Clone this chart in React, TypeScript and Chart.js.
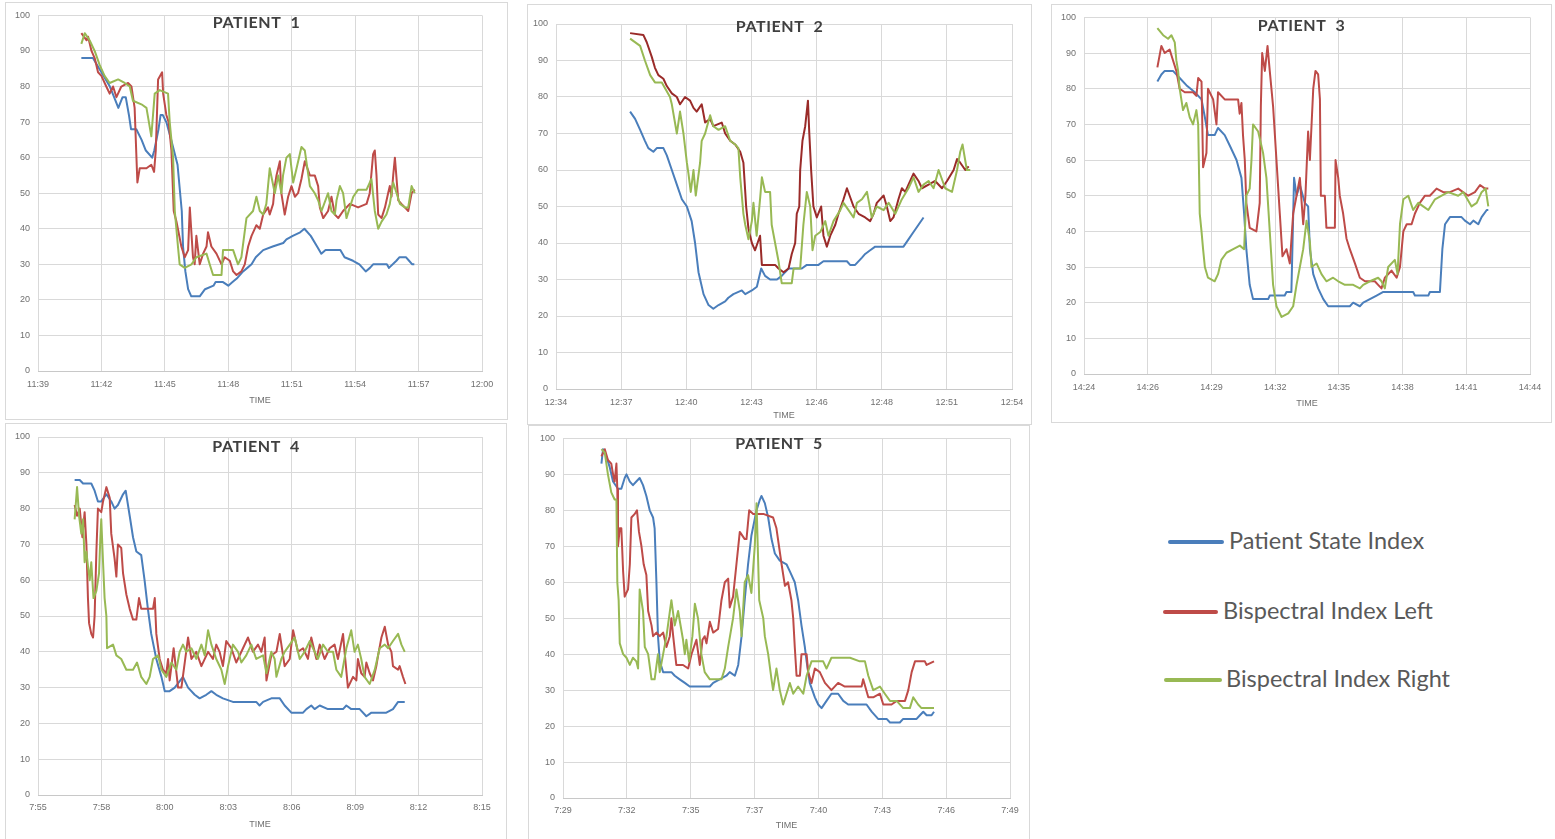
import React, { useEffect, useRef } from "react";
import { Chart, registerables } from "chart.js";

Chart.register(...registerables);

// ---------- DATA: [minutes since first axis tick, value] ----------
const seriesNames = ["Patient State Index", "Bispectral Index Left", "Bispectral Index Right"];

const p1Ticks = ["11:39", "11:42", "11:45", "11:48", "11:51", "11:54", "11:57", "12:00"];
const p1Span = 21;
const p1Psi = [[2.05,88],[2.6,88],[2.9,85],[3.4,80],[3.6,77],[3.8,74],[4.0,77],[4.15,77],[4.3,72],[4.4,68],[4.65,68],[4.9,65],[5.1,62],[5.4,60],[5.5,62],[5.7,68],[5.8,72],[5.9,72],[6.07,70],[6.3,65],[6.6,58],[6.8,45],[6.86,35],[6.97,28],[7.1,23],[7.25,21],[7.65,21],[7.9,23],[8.3,24],[8.4,25],[8.75,25],[9.0,24],[9.2,25],[9.4,26],[9.7,28],[9.9,29],[10.1,30],[10.3,32],[10.65,34],[11.1,35],[11.6,36],[11.75,37],[12.05,38],[12.4,39],[12.6,40],[12.9,38],[13.2,35],[13.4,33],[13.6,34],[14.3,34],[14.5,32],[14.9,31],[15.2,30],[15.5,28],[15.7,29],[15.85,30],[16.5,30],[16.6,29],[16.95,31],[17.1,32],[17.4,32],[17.55,31],[17.7,30],[17.8,30]];
const p1BisL = [[2.05,95],[2.3,93],[2.37,94],[2.53,90],[2.68,88],[2.84,84],[3.0,83],[3.23,80],[3.39,78],[3.55,80],[3.71,77],[3.94,80],[4.26,81],[4.42,80],[4.57,74],[4.7,53],[4.81,57],[5.13,57],[5.36,58],[5.49,56],[5.57,62],[5.68,82],[5.87,84],[5.92,78],[6.07,72],[6.18,70],[6.31,62],[6.42,45],[6.55,42],[6.78,35],[6.94,32],[7.1,34],[7.18,46],[7.33,32],[7.41,30],[7.49,38],[7.65,30],[7.81,33],[7.97,35],[8.04,39],[8.2,35],[8.44,33],[8.68,30],[8.83,32],[9.07,31],[9.23,28],[9.39,27],[9.62,28],[9.78,30],[9.94,35],[10.1,38],[10.33,41],[10.49,40],[10.65,44],[10.88,46],[10.96,44],[11.12,47],[11.2,52],[11.28,55],[11.44,59],[11.51,50],[11.67,44],[11.83,49],[11.99,52],[12.15,49],[12.3,50],[12.46,54],[12.62,59],[12.86,55],[13.09,55],[13.25,52],[13.33,46],[13.49,43],[13.72,45],[13.88,49],[14.04,44],[14.2,43],[14.43,45],[14.75,47],[15.14,46],[15.54,47],[15.69,50],[15.85,61],[15.93,62],[16.01,55],[16.09,44],[16.25,43],[16.41,46],[16.56,50],[16.64,52],[16.72,49],[16.8,55],[16.88,60],[17.04,48],[17.19,47],[17.35,46],[17.51,45],[17.67,50],[17.82,51]];
const p1BisR = [[2.05,92],[2.21,95],[2.44,93],[2.68,90],[2.92,86],[3.15,83],[3.39,81],[3.79,82],[4.1,81],[4.34,80],[4.49,76],[4.89,75],[5.13,74],[5.36,66],[5.52,78],[5.76,79],[6.15,78],[6.23,70],[6.39,60],[6.47,45],[6.62,35],[6.7,30],[6.94,29],[7.26,30],[7.49,32],[7.97,33],[8.12,30],[8.28,27],[8.68,27],[8.75,34],[9.23,34],[9.46,30],[9.62,32],[9.86,43],[10.17,45],[10.33,49],[10.49,45],[10.65,44],[10.8,47],[10.88,52],[10.96,57],[11.2,50],[11.36,55],[11.51,50],[11.59,55],[11.75,60],[11.91,61],[12.07,53],[12.23,57],[12.46,63],[12.62,62],[12.86,52],[13.09,50],[13.25,48],[13.41,45],[13.72,50],[13.88,45],[14.04,44],[14.12,48],[14.28,52],[14.43,50],[14.59,43],[14.75,46],[14.91,49],[15.14,51],[15.54,51],[15.77,54],[15.93,45],[16.09,40],[16.25,42],[16.48,44],[16.64,47],[16.8,53],[16.96,50],[17.12,47],[17.35,46],[17.51,46],[17.67,52],[17.82,50]];

const p2Ticks = ["12:34", "12:37", "12:40", "12:43", "12:46", "12:48", "12:51", "12:54"];
const p2Span = 20;
const p2Psi = [[3.25,76],[3.47,74],[3.69,71],[3.9,68],[4.05,66],[4.27,65],[4.42,66],[4.71,66],[4.86,64],[5.08,60],[5.3,56],[5.52,52],[5.74,50],[5.95,46],[6.1,40],[6.25,32],[6.47,26],[6.69,23],[6.9,22],[7.13,23],[7.42,24],[7.56,25],[7.78,26],[8.15,27],[8.3,26],[8.59,27],[8.81,28],[9.0,33],[9.17,31],[9.39,30],[9.69,30],[9.9,31],[10.2,33],[10.78,33],[11.0,34],[11.51,34],[11.73,35],[12.76,35],[12.9,34],[13.12,34],[13.42,36],[13.56,37],[13.78,38],[14.0,39],[15.24,39],[15.46,41],[15.68,43],[15.9,45],[16.12,47]];
const p2BisL = [[3.25,97.5],[3.83,97],[3.98,95],[4.2,91],[4.34,88],[4.49,86],[4.71,85],[4.86,83],[5.08,81],[5.3,80],[5.44,78],[5.66,80],[5.88,79],[6.03,77],[6.17,76],[6.39,78],[6.54,73],[6.76,74],[6.9,72],[7.27,73],[7.42,70],[7.64,68],[7.86,67],[8.08,65],[8.22,62],[8.34,50],[8.44,44],[8.59,40],[8.73,38],[8.95,42],[9.03,34],[9.61,34],[9.76,33],[9.98,32],[10.2,33],[10.34,37],[10.49,40],[10.56,48],[10.67,50],[10.71,60],[10.81,68],[10.93,72],[11.05,79],[11.11,70],[11.19,60],[11.29,50],[11.44,47],[11.63,50],[11.73,42],[11.88,39],[12.03,42],[12.25,45],[12.39,48],[12.61,52],[12.76,55],[13.05,50],[13.27,48],[13.56,47],[13.78,46],[13.93,48],[14.07,51],[14.37,53],[14.51,50],[14.66,46],[14.8,47],[15.02,52],[15.17,55],[15.32,54],[15.46,56],[15.68,59],[15.9,57],[16.05,55],[16.34,56],[16.63,57],[16.93,55],[17.15,57],[17.44,60],[17.59,63],[17.73,62],[17.95,60],[18.1,61]];
const p2BisR = [[3.25,96],[3.69,94],[3.9,90],[4.13,86],[4.34,84],[4.64,84],[5.0,80],[5.08,78],[5.3,70],[5.44,76],[5.59,70],[5.74,62],[5.81,59],[5.91,54],[6.03,60],[6.13,53],[6.32,62],[6.39,68],[6.54,70],[6.76,75],[6.9,72],[7.13,71],[7.42,72],[7.64,68],[7.86,67],[8.0,66],[8.08,58],[8.22,48],[8.3,45],[8.44,41],[8.59,46],[8.66,51],[8.8,42],[8.95,52],[9.03,58],[9.17,54],[9.39,54],[9.46,45],[9.61,40],[9.76,35],[9.9,29],[10.34,29],[10.42,33],[10.71,33],[10.85,45],[11.0,54],[11.15,50],[11.25,38],[11.37,42],[11.59,43],[11.81,46],[11.95,42],[12.17,46],[12.47,49],[12.61,51],[12.83,49],[13.05,47],[13.2,51],[13.42,52],[13.64,54],[13.85,47],[14.07,50],[14.37,49],[14.59,51],[14.88,48],[15.17,52],[15.46,55],[15.68,58],[15.9,54],[16.12,56],[16.34,57],[16.56,55],[16.78,60],[17.07,55],[17.37,54],[17.59,60],[17.73,65],[17.83,67],[18.02,60],[18.17,60]];

const p3Ticks = ["14:24", "14:26", "14:29", "14:32", "14:35", "14:38", "14:41", "14:44"];
const p3Span = 20;
const p3Psi = [[3.29,82],[3.47,84],[3.62,85],[3.99,85],[4.29,83],[4.59,81],[4.97,79],[5.27,77],[5.42,72],[5.56,67],[5.86,67],[6.01,69],[6.31,67],[6.54,64],[6.84,60],[7.06,55],[7.18,45],[7.28,35],[7.43,25],[7.58,21],[8.26,21],[8.33,22],[9.0,22],[9.08,23],[9.3,23],[9.42,55],[9.53,50],[9.68,53],[9.9,48],[10.05,47],[10.13,35],[10.28,28],[10.5,24],[10.73,21],[10.95,19],[11.92,19],[12.07,20],[12.37,19],[12.52,20],[12.82,21],[13.12,22],[13.42,23],[14.76,23],[14.84,22],[15.44,22],[15.51,23],[15.96,23],[16.07,35],[16.19,42],[16.41,44],[16.93,44],[17.08,43],[17.31,42],[17.46,43],[17.68,42],[17.83,44],[18.06,46],[18.13,46]];
const p3BisL = [[3.29,86],[3.47,92],[3.62,90],[3.84,91],[3.99,88],[4.14,85],[4.29,80],[4.52,79],[4.89,79],[5.04,78],[5.12,83],[5.27,82],[5.34,58],[5.49,62],[5.56,80],[5.79,77],[5.94,70],[6.01,79],[6.31,77],[6.91,77],[6.98,73],[7.06,76],[7.13,67],[7.21,60],[7.28,48],[7.43,41],[7.73,40],[7.88,48],[7.93,75],[7.99,90],[8.11,85],[8.23,92],[8.33,85],[8.48,75],[8.63,60],[8.71,52],[8.78,45],[8.9,33],[9.08,35],[9.23,31],[9.38,45],[9.53,50],[9.68,55],[9.83,42],[9.93,50],[10.05,68],[10.13,60],[10.28,80],[10.38,85],[10.5,84],[10.58,77],[10.62,50],[10.8,50],[10.87,41],[11.25,41],[11.28,60],[11.4,55],[11.47,50],[11.62,45],[11.77,38],[11.92,35],[12.15,31],[12.37,27],[12.6,26],[13.04,26],[13.19,25],[13.34,24],[13.49,27],[13.79,29],[14.02,27],[14.17,30],[14.32,40],[14.47,42],[14.69,42],[14.84,45],[15.06,48],[15.29,50],[15.51,50],[15.81,52],[16.11,51],[16.41,51],[16.78,52],[17.23,50],[17.53,51],[17.76,53],[17.98,52],[18.13,52]];
const p3BisR = [[3.29,97],[3.55,95],[3.77,94],[3.92,95],[4.07,93],[4.14,88],[4.22,85],[4.29,80],[4.44,74],[4.59,76],[4.74,72],[4.89,70],[5.04,74],[5.12,70],[5.19,45],[5.27,40],[5.34,35],[5.42,30],[5.56,27],[5.86,26],[6.01,28],[6.16,32],[6.39,34],[6.69,35],[6.99,36],[7.18,35],[7.28,50],[7.43,52],[7.51,60],[7.58,70],[7.81,68],[8.03,62],[8.18,55],[8.33,40],[8.48,25],[8.63,19],[8.86,16],[9.16,17],[9.38,19],[9.53,25],[9.68,30],[9.83,35],[9.98,43],[10.13,37],[10.2,30],[10.43,31],[10.65,28],[10.87,26],[11.17,27],[11.4,26],[11.7,25],[12.07,25],[12.37,24],[12.52,25],[12.82,26],[13.19,27],[13.34,26],[13.49,24],[13.64,30],[13.94,32],[14.06,28],[14.17,42],[14.32,49],[14.54,50],[14.76,46],[14.99,48],[15.21,47],[15.44,46],[15.74,49],[16.04,50],[16.33,51],[16.78,50],[17.01,51],[17.38,47],[17.61,48],[17.83,51],[18.01,52],[18.13,47]];

const p4Ticks = ["7:55", "7:58", "8:00", "8:03", "8:06", "8:09", "8:12", "8:15"];
const p4Span = 20;
const p4Psi = [[1.65,88],[1.88,88],[2.03,87],[2.4,87],[2.55,85],[2.7,82],[2.85,82],[3.08,84],[3.3,82],[3.45,80],[3.6,81],[3.83,84],[3.95,85],[4.13,78],[4.28,72],[4.43,68],[4.65,67],[4.8,60],[4.95,52],[5.1,45],[5.33,38],[5.56,33],[5.71,29],[5.93,29],[6.16,30],[6.53,33],[6.76,30],[7.06,28],[7.28,27],[7.58,28],[7.81,29],[8.03,28],[8.33,27],[8.78,26],[9.83,26],[9.98,25],[10.14,26],[10.51,27],[10.89,27],[11.11,25],[11.41,23],[11.94,23],[12.09,24],[12.31,25],[12.46,24],[12.69,25],[13.06,24],[13.74,24],[13.89,25],[14.11,24],[14.49,24],[14.79,22],[15.02,23],[15.69,23],[15.99,24],[16.22,26],[16.52,26]];
const p4BisL = [[1.65,81],[1.76,78],[1.88,80],[2.0,72],[2.1,79],[2.18,70],[2.25,55],[2.3,48],[2.4,45],[2.48,44],[2.55,50],[2.63,68],[2.7,80],[2.85,79],[2.93,82],[3.08,86],[3.23,83],[3.3,73],[3.45,66],[3.53,61],[3.6,70],[3.75,69],[3.83,62],[3.98,56],[4.13,52],[4.28,49],[4.43,49],[4.55,55],[4.65,52],[5.18,52],[5.26,55],[5.33,45],[5.48,38],[5.63,35],[5.78,34],[5.86,38],[5.93,32],[6.01,36],[6.11,41],[6.31,30],[6.46,30],[6.61,37],[6.76,44],[6.91,38],[7.13,40],[7.36,36],[7.66,40],[7.88,38],[8.03,42],[8.18,40],[8.33,36],[8.48,43],[8.71,41],[8.93,37],[9.16,40],[9.46,44],[9.68,40],[9.91,42],[10.06,40],[10.21,44],[10.29,32],[10.51,39],[10.74,40],[10.89,45],[11.11,36],[11.34,38],[11.49,46],[11.71,40],[11.94,41],[12.16,38],[12.31,44],[12.54,38],[12.69,42],[12.91,38],[13.14,41],[13.36,42],[13.51,38],[13.74,45],[13.81,40],[13.96,30],[14.19,33],[14.34,32],[14.41,38],[14.56,34],[14.71,33],[14.79,37],[14.94,34],[15.09,32],[15.24,36],[15.32,39],[15.47,44],[15.62,47],[15.77,42],[15.92,40],[15.99,36],[16.22,35],[16.29,36],[16.44,33],[16.55,31]];
const p4BisR = [[1.65,77],[1.76,86],[1.85,78],[1.95,73],[2.03,77],[2.1,65],[2.18,68],[2.25,64],[2.33,60],[2.4,65],[2.5,55],[2.63,57],[2.75,62],[2.81,72],[2.85,77],[2.93,65],[3.0,55],[3.08,50],[3.11,41],[3.38,42],[3.53,39],[3.75,38],[3.98,35],[4.28,35],[4.46,37],[4.65,33],[4.88,31],[5.03,33],[5.18,38],[5.41,39],[5.56,35],[5.78,33],[6.01,37],[6.23,35],[6.38,40],[6.53,42],[6.68,40],[6.91,41],[7.13,38],[7.36,42],[7.51,39],[7.66,46],[7.81,42],[8.03,38],[8.26,35],[8.41,31],[8.56,36],[8.78,42],[9.01,40],[9.16,37],[9.38,39],[9.61,42],[9.83,38],[10.14,39],[10.29,34],[10.51,40],[10.66,38],[10.74,33],[10.96,38],[11.11,40],[11.34,42],[11.56,44],[11.79,38],[12.01,40],[12.24,43],[12.46,40],[12.61,38],[12.84,42],[13.06,40],[13.29,40],[13.44,35],[13.66,33],[13.89,41],[14.11,46],[14.26,40],[14.41,42],[14.56,38],[14.71,33],[14.94,31],[15.17,35],[15.39,41],[15.62,42],[15.77,41],[15.99,43],[16.22,45],[16.37,42],[16.52,40]];

const p5Ticks = ["7:29", "7:32", "7:35", "7:37", "7:40", "7:43", "7:46", "7:49"];
const p5Span = 20;
const p5Psi = [[1.72,93],[1.79,97],[1.94,95],[2.09,92],[2.24,88],[2.46,86],[2.61,86],[2.76,89],[2.84,90],[2.99,88],[3.13,87],[3.28,88],[3.43,89],[3.58,87],[3.73,84],[3.88,80],[4.03,78],[4.1,75],[4.18,60],[4.25,45],[4.33,38],[4.48,35],[4.85,35],[5.0,34],[5.22,33],[5.45,32],[5.67,31],[6.57,31],[6.72,32],[7.01,33],[7.31,34],[7.46,35],[7.69,34],[7.84,37],[7.99,45],[8.13,55],[8.28,65],[8.43,73],[8.66,80],[8.81,83],[8.88,84],[9.03,82],[9.18,78],[9.33,72],[9.48,68],[9.7,66],[10.0,65],[10.15,63],[10.37,60],[10.52,55],[10.67,48],[10.82,42],[10.9,38],[10.97,35],[11.04,32],[11.27,28],[11.42,26],[11.57,25],[11.79,27],[12.01,29],[12.31,29],[12.54,27],[12.76,26],[13.58,26],[13.81,24],[14.1,22],[14.48,22],[14.63,21],[15.07,21],[15.22,22],[15.82,22],[15.97,23],[16.12,24],[16.27,23],[16.49,23],[16.6,24]];
const p5BisL = [[1.72,95],[1.87,97],[2.01,94],[2.16,93],[2.24,90],[2.31,88],[2.39,93],[2.43,86],[2.46,70],[2.54,75],[2.61,75],[2.69,63],[2.76,56],[2.91,58],[2.99,65],[3.06,78],[3.21,79],[3.31,80],[3.4,74],[3.51,70],[3.61,65],[3.73,62],[3.81,52],[3.96,48],[4.03,45],[4.18,46],[4.33,45],[4.48,46],[4.63,42],[4.78,45],[4.85,50],[4.93,45],[5.07,37],[5.37,37],[5.6,36],[5.75,40],[5.97,44],[6.12,37],[6.24,44],[6.34,45],[6.42,43],[6.57,49],[6.72,46],[6.94,47],[7.09,55],[7.24,60],[7.39,61],[7.46,53],[7.61,56],[7.76,65],[7.91,74],[8.13,72],[8.21,72],[8.33,80],[8.51,79],[8.96,79],[9.4,78],[9.55,75],[9.78,65],[9.93,59],[10.07,60],[10.22,55],[10.3,50],[10.37,42],[10.45,34],[10.6,34],[10.67,40],[10.9,40],[10.97,35],[11.12,32],[11.27,36],[11.49,35],[11.72,32],[12.01,30],[12.31,32],[12.61,31],[13.36,31],[13.43,33],[13.66,28],[13.88,28],[14.18,29],[14.33,26],[14.7,26],[14.93,27],[15.3,27],[15.45,30],[15.6,35],[15.75,38],[16.19,38],[16.27,37],[16.6,38]];
const p5BisR = [[1.72,97],[1.87,96],[2.01,90],[2.16,85],[2.31,83],[2.39,83],[2.43,60],[2.49,55],[2.54,43],[2.69,40],[2.84,39],[2.99,37],[3.13,39],[3.28,38],[3.36,36],[3.43,58],[3.58,52],[3.66,42],[3.81,40],[3.96,33],[4.1,33],[4.25,40],[4.33,35],[4.63,45],[4.85,55],[5.0,48],[5.15,52],[5.37,44],[5.45,40],[5.52,44],[5.64,38],[5.79,45],[5.9,54],[6.04,50],[6.19,40],[6.34,35],[6.57,33],[7.09,33],[7.24,36],[7.39,42],[7.61,50],[7.76,58],[7.91,52],[7.99,45],[8.13,60],[8.28,62],[8.43,57],[8.58,70],[8.66,82],[8.78,55],[8.96,50],[9.03,45],[9.18,40],[9.33,33],[9.4,30],[9.55,36],[9.7,30],[9.85,26],[10.0,29],[10.15,32],[10.3,29],[10.52,31],[10.75,29],[10.9,34],[11.12,38],[11.64,38],[11.79,36],[12.01,39],[12.84,39],[13.28,38],[13.51,38],[13.66,34],[13.88,30],[14.18,31],[14.4,29],[14.63,27],[14.93,27],[15.22,25],[15.52,25],[15.67,28],[15.89,26],[16.04,25],[16.6,25]];

// ---------- STYLE ----------
const BLUE = "#4A7EBB";
const RED = "#BE4B48";
const DARK_RED = "#9A2B29";
const GREEN = "#98B954";
const GRID = "#d9d9d9";
const TICK_COLOR = "#707070";

type Box = { l: number; t: number; r: number; b: number };
type PanelCfg = {
  title: string;
  ticks: string[];
  span: number;
  series: number[][][];
  colors: string[];
  box: Box;
  plot: Box;
  titleY: number;
  timePad: number;
  tickPad: number;
};

const panels: PanelCfg[] = [
  { title: "PATIENT  1", ticks: p1Ticks, span: p1Span, series: [p1Psi, p1BisL, p1BisR], colors: [BLUE, RED, GREEN],
    box: { l: 5, t: 2, r: 508, b: 420 }, plot: { l: 38, t: 14, r: 482, b: 371 }, titleY: 21, timePad: 13.6, tickPad: 8.6 },
  { title: "PATIENT  2", ticks: p2Ticks, span: p2Span, series: [p2Psi, p2BisL, p2BisR], colors: [BLUE, DARK_RED, GREEN],
    box: { l: 527, t: 4, r: 1032, b: 425 }, plot: { l: 556, t: 24, r: 1012, b: 389 }, titleY: 23, timePad: 3.6, tickPad: 8.6 },
  { title: "PATIENT  3", ticks: p3Ticks, span: p3Span, series: [p3Psi, p3BisL, p3BisR], colors: [BLUE, RED, GREEN],
    box: { l: 1051, t: 4, r: 1552, b: 423 }, plot: { l: 1084, t: 17, r: 1530, b: 374 }, titleY: 22, timePad: 13.6, tickPad: 8.6 },
  { title: "PATIENT  4", ticks: p4Ticks, span: p4Span, series: [p4Psi, p4BisL, p4BisR], colors: [BLUE, RED, GREEN],
    box: { l: 5, t: 423, r: 507, b: 845 }, plot: { l: 38, t: 437, r: 482, b: 795 }, titleY: 24, timePad: 14.6, tickPad: 7.6 },
  { title: "PATIENT  5", ticks: p5Ticks, span: p5Span, series: [p5Psi, p5BisL, p5BisR], colors: [BLUE, RED, GREEN],
    box: { l: 528, t: 425, r: 1030, b: 845 }, plot: { l: 563, t: 437, r: 1010, b: 798 }, titleY: 19, timePad: 13.6, tickPad: 7.6 },
];

const panelTitlePlugin = {
  id: "panelTitle",
  afterDraw(chart: any, _args: any, opts: any) {
    const ctx = chart.ctx;
    ctx.save();
    ctx.font = "bold 16px Lato";
    ctx.fillStyle = "#404040";
    ctx.textAlign = "center";
    ctx.textBaseline = "middle";
    try { (ctx as any).letterSpacing = "0.6px"; } catch (e) {}
    ctx.fillText(opts.text, chart.width / 2, opts.y);
    ctx.restore();
  },
};

function Panel({ cfg }: { cfg: PanelCfg }) {
  const ref = useRef<HTMLCanvasElement>(null);
  const W = cfg.box.r - cfg.box.l;
  const H = cfg.box.b - cfg.box.t;
  useEffect(() => {
    const tickFont = { family: "'Liberation Sans', Arial, sans-serif", size: 9 };
    const chart = new Chart(ref.current!, {
      type: "line",
      data: {
        datasets: cfg.series.map((s, i) => ({
          label: seriesNames[i],
          data: s.map(([x, y]) => ({ x, y })),
          borderColor: cfg.colors[i],
          backgroundColor: cfg.colors[i],
          borderWidth: 2,
          pointRadius: 0,
          tension: 0,
          borderJoinStyle: "round" as const,
          order: 2 - i,
        })),
      },
      options: {
        animation: false,
        responsive: false,
        maintainAspectRatio: false,
        events: [],
        layout: {
          padding: { top: cfg.plot.t - cfg.box.t, right: cfg.box.r - cfg.plot.r, left: 0, bottom: 0 },
        },
        plugins: {
          legend: { display: false },
          tooltip: { enabled: false },
          panelTitle: { text: cfg.title, y: cfg.titleY },
        } as any,
        scales: {
          x: {
            type: "linear",
            min: 0,
            max: cfg.span,
            afterBuildTicks: (s: any) => {
              s.ticks = cfg.ticks.map((_, i) => ({ value: (i * cfg.span) / (cfg.ticks.length - 1) }));
            },
            afterFit: (s: any) => { s.height = cfg.box.b - cfg.plot.b; },
            ticks: {
              autoSkip: false,
              maxRotation: 0,
              padding: cfg.tickPad,
              font: tickFont,
              color: TICK_COLOR,
              callback: (_v: any, i: number) => cfg.ticks[i],
            },
            grid: { color: GRID, drawTicks: false, lineWidth: 1 },
            border: { color: "#c8c8c8" },
            title: {
              display: true,
              text: "TIME",
              font: tickFont,
              color: TICK_COLOR,
              padding: { top: 2, bottom: cfg.timePad },
            },
          },
          y: {
            min: 0,
            max: 100,
            afterFit: (s: any) => { s.width = cfg.plot.l - cfg.box.l; },
            ticks: { stepSize: 10, padding: 8, font: tickFont, color: TICK_COLOR },
            grid: { color: GRID, drawTicks: false, lineWidth: 1 },
            border: { display: false },
          },
        },
      },
      plugins: [panelTitlePlugin],
    } as any);
    return () => chart.destroy();
  }, [cfg]);
  return (
    <>
      <div
        style={{
          position: "absolute",
          left: cfg.box.l,
          top: cfg.box.t,
          width: W,
          height: H,
          border: "1px solid #d9d9d9",
          boxSizing: "border-box",
          background: "#fff",
        }}
      />
      <canvas
        ref={ref}
        width={W}
        height={H}
        style={{ position: "absolute", left: cfg.box.l, top: cfg.box.t, width: W, height: H }}
      />
    </>
  );
}

const legendItems = [
  { color: BLUE, y: 542, x1: 1168, x2: 1224, tx: 1229 },
  { color: RED, y: 612, x1: 1163, x2: 1218, tx: 1223 },
  { color: GREEN, y: 680, x1: 1164, x2: 1222, tx: 1226 },
];

export default function App() {
  return (
    <div
      style={{
        position: "absolute",
        left: 0,
        top: 0,
        width: 1555,
        height: 839,
        overflow: "hidden",
        background: "#fff",
      }}
    >
      {panels.map((p, i) => (
        <Panel key={i} cfg={p} />
      ))}
      {legendItems.map((it, i) => (
        <React.Fragment key={i}>
          <div
            style={{
              position: "absolute",
              left: it.x1,
              top: it.y - 2,
              width: it.x2 - it.x1,
              height: 4,
              borderRadius: 2,
              background: it.color,
            }}
          />
          <div
            style={{
              position: "absolute",
              left: it.tx,
              top: it.y - 16,
              height: 30,
              lineHeight: "30px",
              font: "23.5px Lato, sans-serif",
              color: "#595959",
              whiteSpace: "nowrap",
            }}
          >
            {seriesNames[i]}
          </div>
        </React.Fragment>
      ))}
    </div>
  );
}
